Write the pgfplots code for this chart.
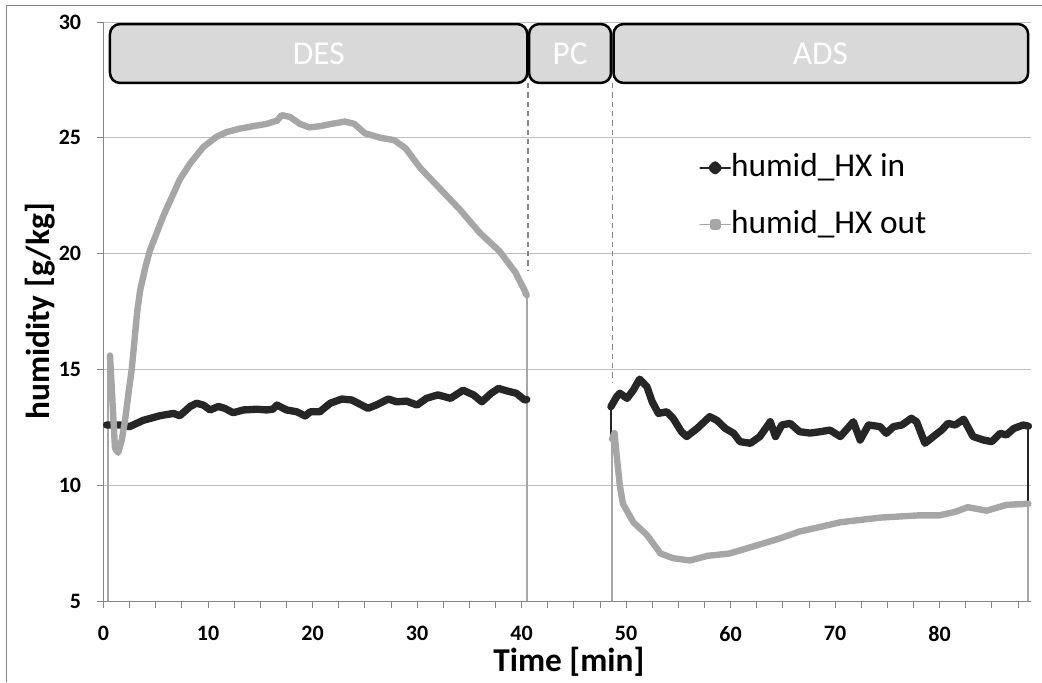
\documentclass[border=0pt]{standalone}
\usepackage{fontspec}
\setmainfont{Carlito}
\usepackage{pgfplots}
\pgfplotsset{compat=1.18}
\definecolor{inc}{HTML}{262626}
\definecolor{outc}{HTML}{A6A6A6}
\definecolor{boxfill}{HTML}{D9D9D9}
\definecolor{axgray}{HTML}{868686}
\definecolor{gridgray}{HTML}{BFBFBF}

\begin{document}
\begin{tikzpicture}
\useasboundingbox (-77.625pt,-60.75pt) rectangle (703.875pt,450.75pt);
\begin{axis}[
  width=695.25pt, height=434.25pt, scale only axis,
  xmin=0, xmax=88.7, ymin=5, ymax=30,
  xtick={0,10,...,80}, minor xtick={2.5,5,...,87.5},
  ytick={5,10,...,30},
  axis x line*=bottom, axis y line*=left,
  axis line style={axgray, line width=0.6pt, -},
  ymajorgrids, grid style={gridgray, line width=0.6pt},
  tick style={axgray, line width=0.6pt}, tick align=outside,
  major tick length=5pt, minor tick length=5pt,
  /pgf/number format/assume math mode=true,
  tick label style={font=\fontsize{16.5}{16.5}\selectfont\bfseries},
  yticklabel style={xshift=-8.25pt},
  xticklabel style={yshift=-10.5pt},
  xlabel={Time [min]}, ylabel={humidity [g/kg]},
  every axis x label/.style={at={(axis description cs:0.502,-0.105)}, anchor=center,
    font=\fontsize{25}{25}\selectfont\bfseries},
  every axis y label/.style={at={(axis description cs:-0.0685,0.5)}, rotate=90, anchor=center,
    font=\fontsize{25}{25}\selectfont\bfseries},
  legend style={at={(axis cs:56.6,24.55)}, anchor=north west, draw=none, fill=none,
    font=\fontsize{25}{25}\selectfont, row sep=17.5pt, column sep=0pt,
    nodes={inner sep=0pt, text height=19pt, text depth=6pt}},
  legend cell align=left,
  unbounded coords=jump,
  clip=false,
]
% phase boxes
\draw[line width=1.9pt, rounded corners=7.5pt, fill=boxfill] (axis cs:0.62,27.37) rectangle (axis cs:40.55,29.91);
\draw[line width=1.9pt, rounded corners=7.5pt, fill=boxfill] (axis cs:40.72,27.37) rectangle (axis cs:48.56,29.91);
\draw[line width=1.9pt, rounded corners=7.5pt, fill=boxfill] (axis cs:48.8,27.37) rectangle (axis cs:88.47,29.91);
\node[white, font=\fontsize{25}{25}\selectfont] at (axis cs:20.6,28.64) {DES};
\node[white, font=\fontsize{25}{25}\selectfont] at (axis cs:44.64,28.64) {PC};
\node[white, font=\fontsize{25}{25}\selectfont] at (axis cs:68.6,28.64) {ADS};
\draw[axgray, line width=0.8pt, dash pattern=on 4pt off 3pt] (axis cs:40.62,27.37) -- (axis cs:40.62,19.3);
\draw[axgray, line width=0.8pt, dash pattern=on 4pt off 3pt] (axis cs:48.66,27.37) -- (axis cs:48.66,14.4);

% vertical jumps (thin)
\addplot[inc, line width=1.5pt, forget plot] coordinates {
  (48.55,11.9) (48.55,13.39) (60,nan) (88.5,12.55) (88.5,5)
};
\addplot[outc, line width=1.5pt, forget plot] coordinates {
  (0.46,5) (0.46,15.4) (20,nan) (40.5,18.2) (40.5,5) (44,nan)
  (48.65,5) (48.65,12.0) (60,nan) (88.5,9.2) (88.5,5)
};

% humid_HX in
\addplot[inc, line width=5.5pt, line join=round, line cap=round,
  legend image code/.code={
    \draw[inc, line width=1.3pt] (0pt,0pt) -- (22.5pt,0pt);
    \fill[inc] (11.25pt,2.2pt) -- (13.45pt,0pt) -- (11.25pt,-2.2pt) -- (9.05pt,0pt) -- cycle;}]
coordinates {
  (0.3,12.6) (1.6,12.6) (2.5,12.53) (3.8,12.8) (5.4,13.0) (6.7,13.1) (7.3,13.0)
  (8.3,13.4) (8.9,13.54) (9.55,13.46) (10.2,13.25) (11.0,13.4) (11.6,13.32)
  (12.4,13.13) (13.4,13.25) (14.7,13.28) (15.6,13.25) (16.2,13.28) (16.6,13.46)
  (17.5,13.25) (18.5,13.17) (19.3,12.99) (19.8,13.17) (20.7,13.17) (21.7,13.54)
  (22.8,13.72) (23.75,13.68) (25.3,13.32) (26.1,13.46) (27.25,13.72) (28.05,13.6)
  (29.0,13.63) (30.0,13.46) (30.9,13.75) (32.0,13.9) (33.2,13.75) (34.4,14.1)
  (35.4,13.9) (36.2,13.6) (37.1,13.97) (37.8,14.18) (38.6,14.07) (39.5,13.97)
  (40.3,13.68) (40.5,13.7)
  (44,nan)
  (48.55,13.39) (49.1,13.82) (49.4,13.97) (50.1,13.75) (50.7,14.11) (51.3,14.58)
  (52.0,14.25) (52.5,13.6) (53.1,13.1) (53.9,13.17) (54.5,12.89) (55.3,12.31)
  (55.8,12.1) (56.8,12.45) (58.0,12.96) (58.7,12.8) (59.5,12.45) (60.3,12.24)
  (60.9,11.88) (61.9,11.81) (62.8,12.1) (63.8,12.74) (64.3,12.1) (64.9,12.6)
  (65.7,12.67) (66.6,12.31) (67.6,12.25) (68.6,12.31) (69.5,12.38) (70.5,12.1)
  (71.75,12.74) (72.4,11.95) (73.2,12.6) (74.3,12.53) (74.9,12.24) (75.6,12.53)
  (76.4,12.6) (77.3,12.89) (77.8,12.74) (78.6,11.81) (79.4,12.1) (80.2,12.38)
  (80.8,12.67) (81.5,12.6) (82.3,12.85) (83.2,12.1) (84.2,11.95) (85.0,11.88)
  (85.8,12.24) (86.4,12.17) (87.1,12.45) (88.0,12.6) (88.5,12.55)
};
\addlegendentry{humid\_HX in}

% humid_HX out
\addplot[outc, line width=4.8pt, line join=round, line cap=round,
  legend image code/.code={
    \draw[outc, line width=1.3pt] (0pt,0pt) -- (22.5pt,0pt);
    \fill[outc] (9.5pt,-1.75pt) rectangle (13pt,1.75pt);}]
coordinates {
  (0.62,15.6) (1.1,11.6) (1.4,11.4) (1.75,11.95) (2.06,12.8) (2.4,14.0) (2.7,15.0)
  (3.0,16.4) (3.2,17.4) (3.5,18.4) (4.0,19.4) (4.45,20.15) (5.1,20.9) (5.7,21.6)
  (6.4,22.3) (7.3,23.2) (8.3,23.9) (9.55,24.6) (10.8,25.04) (11.8,25.25)
  (13.1,25.4) (14.3,25.5) (15.6,25.6) (16.6,25.74) (17.05,25.98) (17.85,25.9)
  (18.8,25.6) (19.7,25.45) (20.7,25.5) (21.8,25.6) (23.1,25.7) (24.0,25.6)
  (25.0,25.2) (26.5,25.0) (27.8,24.9) (28.9,24.55) (30.3,23.7) (32.2,22.8)
  (34.1,21.9) (36.0,20.9) (37.9,20.1) (39.4,19.2) (40.3,18.4) (40.5,18.2)
  (44,nan)
  (48.65,12.0) (48.9,12.25) (49.1,11.3) (49.4,10.0) (49.7,9.2) (50.7,8.4)
  (52.0,7.85) (53.3,7.05) (54.5,6.85) (56.1,6.75) (57.8,6.95) (59.9,7.05)
  (62.5,7.4) (64.7,7.7) (66.6,8.0) (68.6,8.2) (70.5,8.4) (72.4,8.5) (74.3,8.6)
  (76.2,8.65) (78.1,8.7) (80.0,8.7) (81.5,8.85) (82.7,9.05) (84.5,8.9)
  (86.4,9.15) (88.5,9.2)
};
\addlegendentry{humid\_HX out}
\end{axis}
\draw[axgray, line width=0.75pt] (-72.375pt,-60.75pt) -- (-72.375pt,446.25pt) -- (703.875pt,446.25pt);
\end{tikzpicture}
\end{document}
